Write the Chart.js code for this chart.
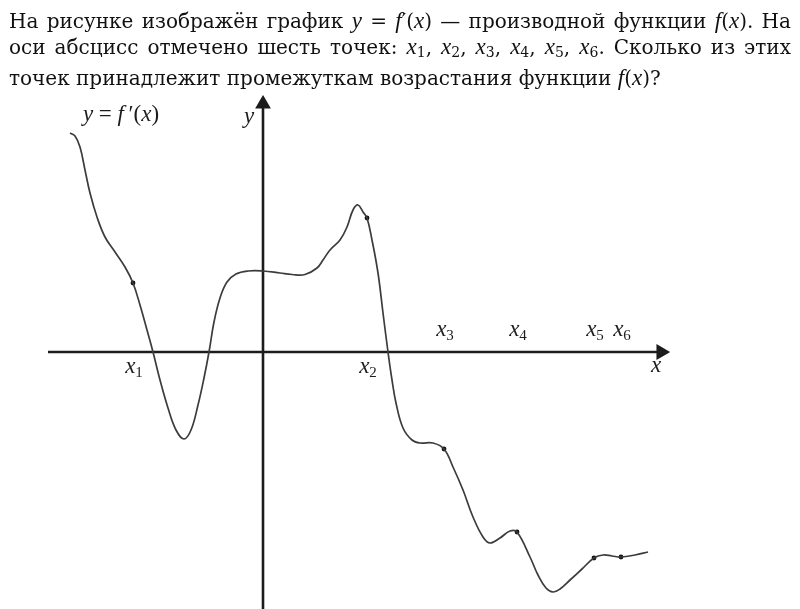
<!DOCTYPE html>
<html lang="ru">
<head>
  <meta charset="UTF-8">
  <title>f'(x)</title>
  <script src="https://cdn.jsdelivr.net/npm/chart.js"></script>
  <style>
    body { margin: 0; background: #fff; }
    #wrap { position: relative; width: 800px; height: 609px; overflow: hidden; }
    #plot { position: absolute; left: 0; top: 0; }
    #q { position: absolute; left: 9px; top: 8px; width: 782px; font-family: "DejaVu Serif", serif; font-size: 20px; color: #111; line-height: 25px; }
    #q div { white-space: nowrap; }
    #q .j { text-align: justify; text-align-last: justify; white-space: normal; }
    #q i { font-family: "Liberation Serif", serif; font-size: 23px; }
    #q sub { font-size: 14px; vertical-align: -3px; }
  </style>
</head>
<body>
<div id="wrap">
  <canvas id="plot" width="800" height="609"></canvas>
  <div id="q">
    <div class="j">На рисунке изображён график <i>y</i> = <i>f</i>′(<i>x</i>) — производной функции <i>f</i>(<i>x</i>). На</div>
    <div class="j">оси абсцисс отмечено шесть точек: <i>x</i><sub>1</sub>, <i>x</i><sub>2</sub>, <i>x</i><sub>3</sub>, <i>x</i><sub>4</sub>, <i>x</i><sub>5</sub>, <i>x</i><sub>6</sub>. Сколько из этих</div>
    <div>точек принадлежит промежуткам возрастания функции <i>f</i>(<i>x</i>)?</div>
  </div>
</div>

<script>
  // curve y = f'(x)
  const curveX = [-19.3, -18.8, -18.3, -17.8, -17.3, -16.6, -15.8, -14.8, -13.8, -13.0, -12.3, -11.6, -11.0,
    -10.3, -9.5, -8.7, -7.9, -7.2, -6.5, -5.9, -5.4, -4.9, -4.3, -3.6, -2.7, -1.5, 0, 1.7, 2.9, 4.2, 5.4, 6.0,
    6.7, 7.7, 8.4, 9.0, 9.5, 10.0, 10.4, 10.9, 11.5, 12.0, 12.5, 12.9, 13.3, 14.0, 14.9, 15.7, 17.0, 18.1,
    19.0, 20.0, 21.0, 22.0, 22.7, 23.7, 24.7, 25.4, 26.7, 27.5, 28.3, 29.0, 29.7, 30.7, 31.9, 33.1, 34.0,
    34.9, 35.8, 37.2, 38.5];
  const curveY = [21.9, 21.6, 20.5, 18.2, 15.9, 13.5, 11.5, 10.0, 8.5, 6.9, 4.7, 2.2, 0,
    -2.8, -5.6, -7.8, -8.7, -7.8, -5.3, -2.6, 0, 3.0, 5.4, 7.0, 7.8, 8.1, 8.1, 7.9, 7.75, 7.75, 8.4, 9.2,
    10.2, 11.2, 12.5, 14.2, 14.7, 14.0, 13.4, 11.2, 7.9, 3.9, 0, -2.8, -5.1, -7.6, -8.8, -9.1, -9.1, -9.7,
    -11.5, -13.8, -16.5, -18.5, -19.1, -18.6, -17.9, -18.0, -20.5, -22.3, -23.6, -24.0, -23.7, -22.8, -21.7, -20.6, -20.3,
    -20.4, -20.5, -20.3, -20.0];

  // marked points x1..x6
  const markX = [-13.0, 10.4, 18.1, 25.4, 33.1, 35.8];
  const markY = [6.9, 13.4, -9.7, -18.0, -20.6, -20.5];
  const markLabels = ['1', '2', '3', '4', '5', '6'];

  const axisX = [-21.5, 39.8];
  const axisY = [-26, 24.8];

  const ink = '#1c1c1c';
  const serif = '"Liberation Serif", serif';

  function rich(ctx, parts, x, y) {
    // parts: [text, font, dy]
    let w = 0;
    for (const p of parts) { ctx.font = p[1]; w += ctx.measureText(p[0]).width; }
    let cx = x - w / 2;
    for (const p of parts) {
      ctx.font = p[1];
      ctx.fillText(p[0], cx, y + (p[2] || 0));
      cx += ctx.measureText(p[0]).width;
    }
  }

  const labels = {
    id: 'labels',
    afterDatasetsDraw(chart) {
      const ctx = chart.ctx;
      const sx = chart.scales.x, sy = chart.scales.y;
      ctx.save();
      ctx.fillStyle = ink;
      ctx.textBaseline = 'alphabetic';
      const it = 'italic 23px ' + serif;
      const up = '23px ' + serif;
      const sub = '15px ' + serif;
      for (let i = 0; i < markX.length; i++) {
        const px = sx.getPixelForValue(markX[i]);
        const py = sy.getPixelForValue(0) + (markY[i] > 0 ? 21 : -16);
        rich(ctx, [['x', it], [markLabels[i], sub, 4]], px + 1, py);
      }
      rich(ctx, [['x', it]], sx.getPixelForValue(axisX[1]) - 5, sy.getPixelForValue(0) + 20);
      rich(ctx, [['y', it]], sx.getPixelForValue(0) - 14, sy.getPixelForValue(axisY[1]) + 19);
      rich(ctx, [['y', it], [' = ', up], ['f', it], ['\u2009′', up], ['(', up], ['x', it], [')', up]], 121, 121);
      ctx.restore();
    }
  };

  const dashSets = markX.map((x, i) => ({
    data: [{x: x, y: 0}, {x: x, y: markY[i]}],
    borderColor: '#3a3a3a',
    borderWidth: 1.4,
    borderDash: [6, 4],
    pointRadius: 0
  }));

  new Chart(document.getElementById('plot'), {
    type: 'scatter',
    data: {
      datasets: [
        {
          data: curveX.map((x, i) => ({x: x, y: curveY[i]})),
          showLine: true,
          borderColor: '#3c3c3c',
          borderWidth: 1.7,
          pointRadius: 0,
          tension: 0.4
        },
        ...dashSets,
        {
          data: axisX.map(x => ({x: x, y: 0})),
          showLine: true,
          borderColor: ink,
          borderWidth: 2.6,
          pointStyle: 'triangle',
          rotation: 90,
          pointRadius: [0, 6.5],
          backgroundColor: ink,
          borderCapStyle: 'butt'
        },
        {
          data: axisY.map(y => ({x: 0, y: y})),
          showLine: true,
          borderColor: ink,
          borderWidth: 2.6,
          pointStyle: 'triangle',
          rotation: 0,
          pointRadius: [0, 6.5],
          backgroundColor: ink
        },
        {
          data: markX.map((x, i) => ({x: x, y: markY[i]})),
          pointRadius: 2.4,
          backgroundColor: '#111',
          borderWidth: 0
        }
      ]
    },
    options: {
      responsive: false,
      animation: false,
      layout: { padding: 0, autoPadding: false },
      plugins: { legend: { display: false }, tooltip: { enabled: false } },
      scales: {
        x: { type: 'linear', display: false, min: -26.3, max: 53.7 },
        y: { type: 'linear', display: false, min: -25.7, max: 35.2 }
      }
    },
    plugins: [labels]
  });
</script>
</body>
</html>
